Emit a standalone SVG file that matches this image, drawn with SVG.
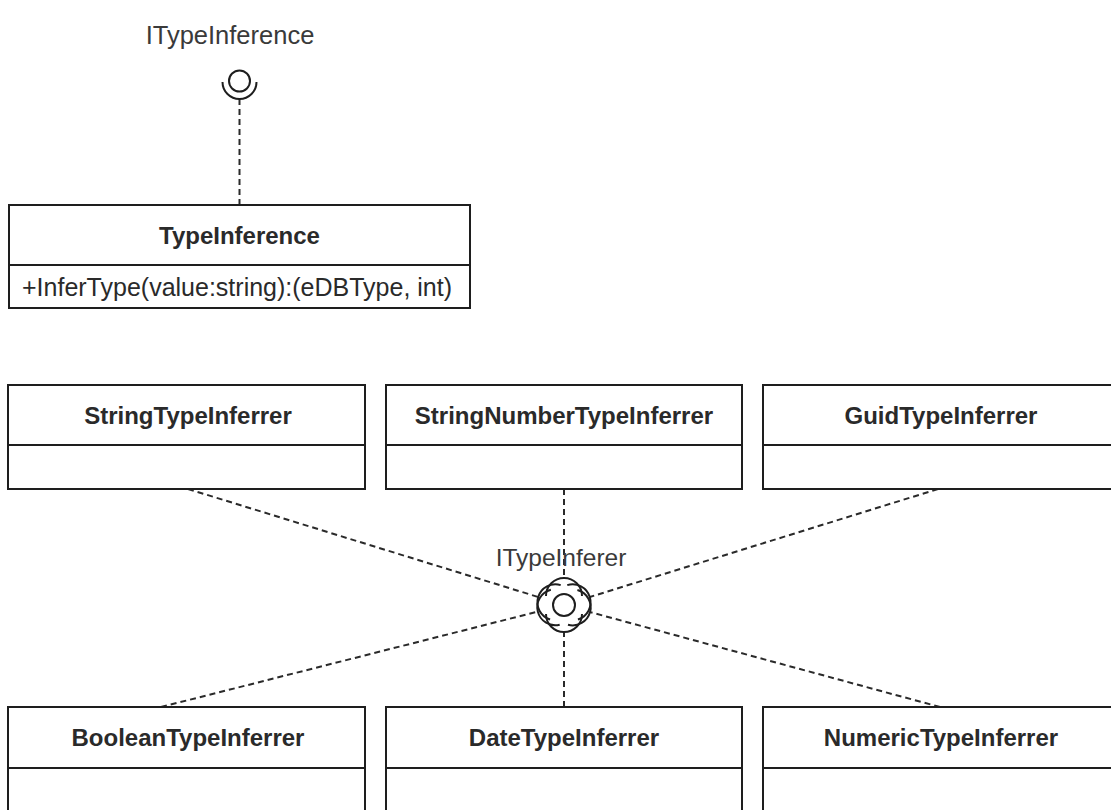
<svg xmlns="http://www.w3.org/2000/svg" xmlns:xlink="http://www.w3.org/1999/xlink" width="1111" height="810" viewBox="0 0 1111 810">
  <style>
    .box { fill: #ffffff; stroke: #1e1e1e; stroke-width: 2; }
    .sep { stroke: #1e1e1e; stroke-width: 2; }
    .title { font-family: "Liberation Sans", Arial, sans-serif; font-size: 24px; font-weight: bold; fill: #2a2a2a; text-anchor: middle; }
    .member { font-family: "Liberation Sans", Arial, sans-serif; font-size: 25px; fill: #2a2a2a; }
    .iface { font-family: "Liberation Sans", Arial, sans-serif; fill: #3a3a3a; text-anchor: middle; }
    .dep { fill: none; stroke: #2a2a2a; stroke-width: 2; stroke-dasharray: 6 4; }
    .ball { fill: #ffffff; stroke: #1e1e1e; stroke-width: 2; }
    .socket { fill: none; stroke: #1e1e1e; stroke-width: 2; }
  </style>
  <defs>
    <!-- required-interface socket, cupping the ball from the +x side -->
    <path id="socket" class="socket" d="M9 18 A18 18 0 0 0 9 -18"/>
  </defs>

  <rect width="1111" height="810" fill="#ffffff"/>

  <!-- connectors -->
  <g id="connectors">
    <line class="dep" x1="239.5" y1="99" x2="239.5" y2="205"/>
    <line class="dep" x1="188" y1="489" x2="538.2" y2="597.0"/>
    <line class="dep" x1="564" y1="489" x2="564" y2="578"/>
    <line class="dep" x1="938" y1="489" x2="589.8" y2="597.0"/>
    <line class="dep" x1="161" y1="707" x2="537.8" y2="611.6"/>
    <line class="dep" x1="564" y1="707" x2="564" y2="632"/>
    <line class="dep" x1="940" y1="707" x2="590.1" y2="612.1"/>
  </g>

  <!-- ITypeInference provided interface -->
  <g id="ITypeInference">
    <text class="iface" x="230" y="44" font-size="25.5">ITypeInference</text>
    <circle class="ball" cx="239.5" cy="81" r="10.5"/>
    <path class="socket" d="M222.5 82 A17 17 0 0 0 256.5 82"/>
  </g>

  <!-- ITypeInferer interface with the sockets of its implementers -->
  <g id="ITypeInferer">
    <text class="iface" x="561" y="566" font-size="24.5">ITypeInferer</text>
    <circle class="ball" cx="564" cy="605" r="11"/>
    <use xlink:href="#socket" transform="translate(564 605) rotate(-162.86)"/>
    <use xlink:href="#socket" transform="translate(564 605) rotate(-90)"/>
    <use xlink:href="#socket" transform="translate(564 605) rotate(-17.23)"/>
    <use xlink:href="#socket" transform="translate(564 605) rotate(165.8)"/>
    <use xlink:href="#socket" transform="translate(564 605) rotate(90)"/>
    <use xlink:href="#socket" transform="translate(564 605) rotate(15.18)"/>
  </g>

  <!-- TypeInference class -->
  <g id="TypeInference">
    <rect class="box" x="9" y="205" width="461" height="103"/>
    <line class="sep" x1="9" y1="265" x2="470" y2="265"/>
    <text class="title" x="239.5" y="244">TypeInference</text>
    <text class="member" x="22" y="296">+InferType(value:string):(eDBType, int)</text>
  </g>

  <!-- top row of inferrers -->
  <g id="StringTypeInferrer">
    <rect class="box" x="8" y="385" width="357" height="104"/>
    <line class="sep" x1="8" y1="445" x2="365" y2="445"/>
    <text class="title" x="188" y="424">StringTypeInferrer</text>
  </g>
  <g id="StringNumberTypeInferrer">
    <rect class="box" x="386" y="385" width="356" height="104"/>
    <line class="sep" x1="386" y1="445" x2="742" y2="445"/>
    <text class="title" x="564" y="424">StringNumberTypeInferrer</text>
  </g>
  <g id="GuidTypeInferrer">
    <rect class="box" x="763" y="385" width="356" height="104"/>
    <line class="sep" x1="763" y1="445" x2="1119" y2="445"/>
    <text class="title" x="941" y="424">GuidTypeInferrer</text>
  </g>

  <!-- bottom row of inferrers -->
  <g id="BooleanTypeInferrer">
    <rect class="box" x="8" y="707" width="357" height="120"/>
    <line class="sep" x1="8" y1="768" x2="365" y2="768"/>
    <text class="title" x="188" y="746">BooleanTypeInferrer</text>
  </g>
  <g id="DateTypeInferrer">
    <rect class="box" x="386" y="707" width="356" height="120"/>
    <line class="sep" x1="386" y1="768" x2="742" y2="768"/>
    <text class="title" x="564" y="746">DateTypeInferrer</text>
  </g>
  <g id="NumericTypeInferrer">
    <rect class="box" x="763" y="707" width="356" height="120"/>
    <line class="sep" x1="763" y1="768" x2="1119" y2="768"/>
    <text class="title" x="941" y="746">NumericTypeInferrer</text>
  </g>
</svg>
